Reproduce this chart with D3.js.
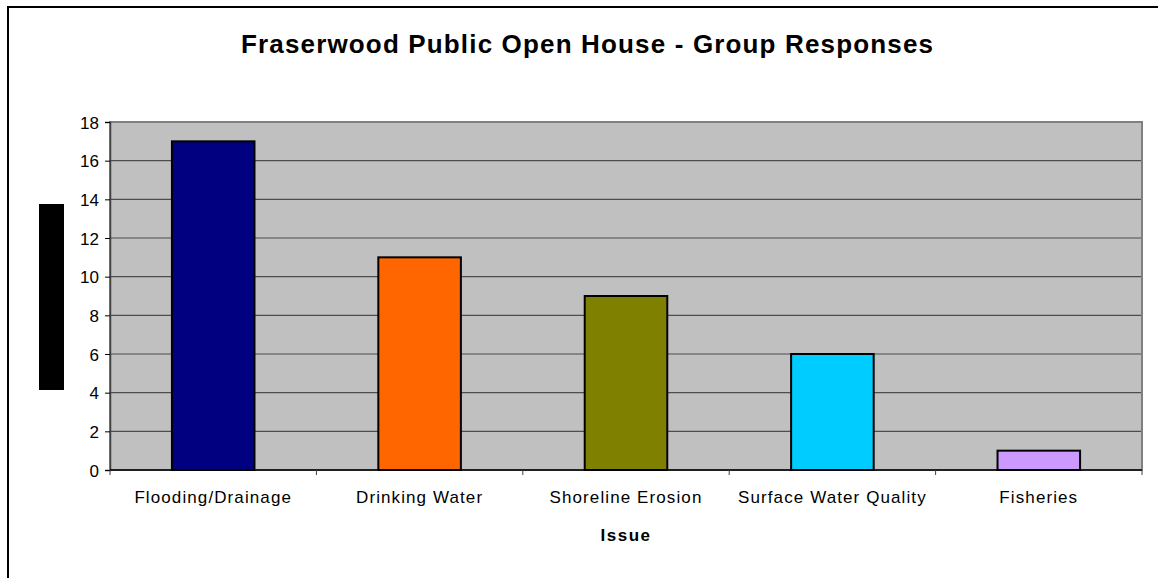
<!DOCTYPE html>
<html>
<head>
<meta charset="utf-8">
<script src="https://cdn.jsdelivr.net/npm/d3@7"></script>
<style>
  body { margin: 0; background: #fff; }
  text { font-family: "Liberation Sans", Arial, sans-serif; fill: #000; }
</style>
</head>
<body>
<div id="chart"></div>
<script>
const issues = ["Flooding/Drainage", "Drinking Water", "Shoreline Erosion", "Surface Water Quality", "Fisheries"]
const responses = [17, 11, 9, 6, 1]
const barColors = ["#000080", "#FF6600", "#808000", "#00CCFF", "#CC99FF"]
const yTicks = [0, 2, 4, 6, 8, 10, 12, 14, 16, 18]

const width = 1158, height = 578
const margin = {top: 122, right: 16, bottom: 108, left: 110}
const w = width - margin.left - margin.right,
	h = height - margin.top - margin.bottom

const svg = d3.select("#chart")
	.append("svg")
	.attr("width", width)
	.attr("height", height)

// outer chart frame
svg.append("rect")
	.attr("x", 8).attr("y", 7)
	.attr("width", 1170).attr("height", 600)
	.attr("fill", "none")
	.attr("stroke", "#000")
	.attr("stroke-width", 2)

svg.append("text")
	.attr("x", 587)
	.attr("y", 53)
	.attr("text-anchor", "middle")
	.style("font-size", "26px")
	.style("font-weight", "bold")
	.attr("textLength", 692)
	.attr("lengthAdjust", "spacing")
	.text("Fraserwood Public Open House - Group Responses")

const g = svg.append("g")
	.attr("transform", `translate(${margin.left},${margin.top})`)

const x = d3.scaleBand()
	.domain(issues)
	.range([0, w])
	.paddingInner(0.6)
	.paddingOuter(0.3)

const xOuter = d3.scaleBand().domain(issues).range([0, w])

const y = d3.scaleLinear()
	.domain([0, 18])
	.range([h, 0])

g.append("rect")
	.attr("width", w).attr("height", h)
	.attr("fill", "#C0C0C0")

// gridlines
g.selectAll(".grid")
	.data(yTicks.filter(d => d > 0 && d < 18))
	.enter().append("line")
	.attr("x1", 0).attr("x2", w)
	.attr("y1", d => y(d)).attr("y2", d => y(d))
	.attr("stroke", "#4d4d4d")
	.attr("stroke-width", 1.2)

g.append("rect")
	.attr("width", w).attr("height", h)
	.attr("fill", "none")
	.attr("stroke", "#808080")
	.attr("stroke-width", 2)

g.selectAll(".bar")
	.data(responses)
	.enter().append("rect")
	.attr("class", "bar")
	.attr("x", (d, i) => x(issues[i]))
	.attr("y", d => y(d))
	.attr("width", x.bandwidth())
	.attr("height", d => h - y(d))
	.attr("fill", (d, i) => barColors[i])
	.attr("stroke", "#000")
	.attr("stroke-width", 2)

// y axis
const yAxis = g.append("g")
	.call(d3.axisLeft(y).tickValues(yTicks).tickSize(5).tickPadding(6))
yAxis.select(".domain").attr("stroke", "#404040").attr("stroke-width", 1.5)
yAxis.selectAll(".tick line").attr("stroke", "#000")
yAxis.selectAll(".tick text")
	.style("font-size", "17px")
	.attr("dy", "0.36em")

// x axis with ticks at category boundaries
const xAxisG = g.append("g").attr("transform", `translate(0,${h})`)
xAxisG.append("line")
	.attr("x1", 0).attr("x2", w)
	.attr("stroke", "#000").attr("stroke-width", 1.5)
xAxisG.selectAll(".xtick")
	.data(issues.map((d, i) => xOuter(d)).concat([w]))
	.enter().append("line")
	.attr("x1", d => d).attr("x2", d => d)
	.attr("y1", 0).attr("y2", 5)
	.attr("stroke", "#404040")
xAxisG.selectAll(".xlabel")
	.data(issues)
	.enter().append("text")
	.attr("x", d => xOuter(d) + xOuter.bandwidth() / 2)
	.attr("y", 33)
	.attr("text-anchor", "middle")
	.style("font-size", "17px")
	.style("letter-spacing", "1.1px")
	.text(d => d)

svg.append("text")
	.attr("x", margin.left + w / 2)
	.attr("y", 541)
	.attr("text-anchor", "middle")
	.style("font-size", "17px")
	.style("font-weight", "bold")
	.style("letter-spacing", "1.5px")
	.text("Issue")

// y axis title block, rendered as a solid bar in the source
svg.append("rect")
	.attr("x", 39).attr("y", 204)
	.attr("width", 25).attr("height", 186)
	.attr("fill", "#000")
</script>
</body>
</html>
